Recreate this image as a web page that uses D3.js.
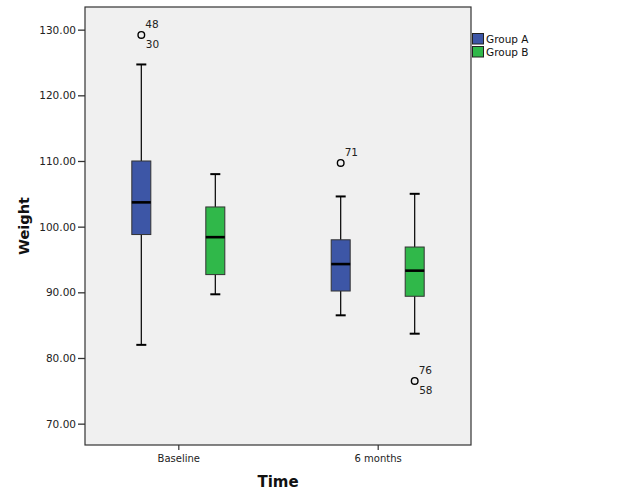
<!DOCTYPE html>
<html>
<head>
<meta charset="utf-8">
<script src="https://cdn.jsdelivr.net/npm/d3@7"></script>
<style>
  body { margin: 0; background: #ffffff; }
  svg { display: block; }
</style>
</head>
<body>
<svg id="chart" width="629" height="504"></svg>
<script>
// ---- Data ----
const categories = ["Baseline", "6 months"];
const groups = ["Group A", "Group B"];
const groupColors = ["#3d56a6", "#30b84a"];
// [whiskerLow, Q1, median, Q3, whiskerHigh] per category
const groupA_stats = [
  [82.0, 98.8, 103.7, 110.0, 124.7],
  [86.5, 90.2, 94.3, 98.0, 104.6]
];
const groupB_stats = [
  [89.7, 92.7, 98.4, 103.0, 108.0],
  [83.7, 89.4, 93.3, 96.9, 105.0]
];
// outliers: [categoryIndex, groupIndex, value, labelAbove, labelBelow]
const outliers = [
  [0, 0, 129.2, "48", "30"],
  [1, 0, 109.7, "71", ""],
  [1, 1, 76.5, "76", "58"]
];
const yTicks = [70, 80, 90, 100, 110, 120, 130];

// ---- Layout ----
const svg = d3.select("#chart");
const frame = { left: 85, top: 7, right: 471, bottom: 445 };
const font = "'DejaVu Sans', sans-serif";

const y = d3.scaleLinear().domain([66.75, 133.45]).range([frame.bottom, frame.top]);
const x = d3.scalePoint().domain(categories).range([frame.left, frame.right]).padding(0.468);
const xg = d3.scaleBand().domain(groups).range([-74, 74]);
const boxW = 19, capW = 10;

svg.append("rect")
  .attr("x", frame.left).attr("y", frame.top)
  .attr("width", frame.right - frame.left).attr("height", frame.bottom - frame.top)
  .attr("fill", "#f0f0f0").attr("stroke", "#333").attr("stroke-width", 1.2);

// axes
const yAxis = svg.append("g")
  .attr("transform", `translate(${frame.left},0)`)
  .call(d3.axisLeft(y).tickValues(yTicks).tickFormat(d3.format(".2f")).tickSize(7).tickPadding(2));
yAxis.select(".domain").remove();
yAxis.selectAll("line").attr("stroke", "#333").attr("stroke-width", 1.3);
yAxis.selectAll("text").attr("font-family", font).attr("font-size", 10.5).attr("fill", "#222");

const xAxis = svg.append("g")
  .attr("transform", `translate(0,${frame.bottom})`)
  .call(d3.axisBottom(x).tickSize(5).tickPadding(5));
xAxis.select(".domain").remove();
xAxis.selectAll("line").attr("stroke", "#333").attr("stroke-width", 1.2);
xAxis.selectAll("text").attr("font-family", font).attr("font-size", 10).attr("fill", "#222");

// axis titles
svg.append("text").attr("x", 278).attr("y", 487)
  .attr("text-anchor", "middle").attr("font-family", font).attr("font-weight", "bold")
  .attr("font-size", 15).attr("fill", "#111").text("Time");
svg.append("text").attr("transform", "translate(29,226) rotate(-90)")
  .attr("text-anchor", "middle").attr("font-family", font).attr("font-weight", "bold")
  .attr("font-size", 14.5).attr("fill", "#111").text("Weight");

// boxes
const allStats = [groupA_stats, groupB_stats];
allStats.forEach((stats, gi) => {
  stats.forEach((s, ci) => {
    const cx = x(categories[ci]) + xg(groups[gi]) + xg.bandwidth() / 2;
    const g = svg.append("g");
    g.append("line").attr("x1", cx).attr("x2", cx).attr("y1", y(s[0])).attr("y2", y(s[4]))
      .attr("stroke", "#000").attr("stroke-width", 1.2);
    [s[0], s[4]].forEach(v => {
      g.append("line").attr("x1", cx - capW / 2).attr("x2", cx + capW / 2)
        .attr("y1", y(v)).attr("y2", y(v)).attr("stroke", "#000").attr("stroke-width", 2);
    });
    g.append("rect").attr("x", cx - boxW / 2).attr("y", y(s[3]))
      .attr("width", boxW).attr("height", y(s[1]) - y(s[3]))
      .attr("fill", groupColors[gi]).attr("stroke", "#333").attr("stroke-width", 1);
    g.append("line").attr("x1", cx - boxW / 2).attr("x2", cx + boxW / 2)
      .attr("y1", y(s[2])).attr("y2", y(s[2])).attr("stroke", "#000").attr("stroke-width", 2.6);
  });
});

// outliers
outliers.forEach(o => {
  const cx = x(categories[o[0]]) + xg(groups[o[1]]) + xg.bandwidth() / 2;
  const cy = y(o[2]);
  svg.append("circle").attr("cx", cx).attr("cy", cy).attr("r", 3.3)
    .attr("fill", "none").attr("stroke", "#000").attr("stroke-width", 1.4);
  if (o[3]) svg.append("text").attr("x", cx + 4).attr("y", cy - 6.5)
    .attr("font-family", font).attr("font-size", 10.5).attr("fill", "#222").text(o[3]);
  if (o[4]) svg.append("text").attr("x", cx + 4.5).attr("y", cy + 13.5)
    .attr("font-family", font).attr("font-size", 10.5).attr("fill", "#222").text(o[4]);
});

// legend
groups.forEach((gname, i) => {
  const ly = 33.5 + i * 13;
  svg.append("rect").attr("x", 472.5).attr("y", ly).attr("width", 11).attr("height", 10.5)
    .attr("fill", groupColors[i]).attr("stroke", "#222").attr("stroke-width", 1);
  svg.append("text").attr("x", 486).attr("y", ly + 9.5)
    .attr("font-family", font).attr("font-size", 10.5).attr("fill", "#111").text(gname);
});
</script>
</body>
</html>
